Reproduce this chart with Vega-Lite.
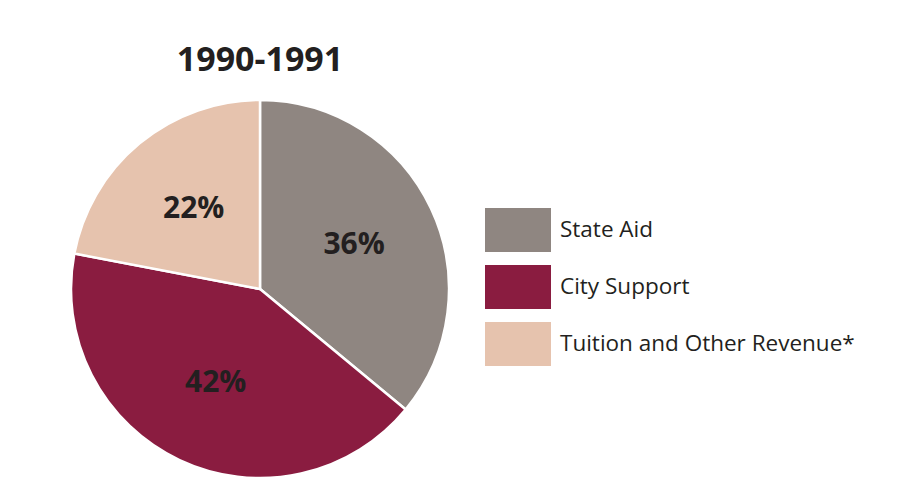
{
  "$schema": "https://vega.github.io/schema/vega-lite/v6.json",
  "autosize": "none",
  "width": 520,
  "height": 420,
  "padding": {"left": 0, "top": 79, "right": 404, "bottom": 1},
  "background": "white",
  "config": {"view": {"stroke": null}, "font": "Open Sans"},
  "title": {
    "text": "1990-1991",
    "font": "Open Sans",
    "fontSize": 34,
    "fontWeight": "bold",
    "color": "#231f20",
    "anchor": "middle",
    "offset": 1
  },
  "data": {
    "values": [
      {"source": "State Aid", "share": 36, "idx": 1, "label": "36%"},
      {"source": "City Support", "share": 42, "idx": 2, "label": "42%"},
      {"source": "Tuition and Other Revenue*", "share": 22, "idx": 3, "label": "22%"}
    ]
  },
  "encoding": {
    "theta": {"field": "share", "type": "quantitative", "stack": true},
    "order": {"field": "idx", "type": "quantitative"}
  },
  "layer": [
    {
      "mark": {"type": "arc", "outerRadius": 189, "stroke": "white", "strokeWidth": 2.5},
      "encoding": {
        "color": {
          "field": "source",
          "type": "nominal",
          "sort": ["State Aid", "City Support", "Tuition and Other Revenue*"],
          "scale": {
            "domain": ["State Aid", "City Support", "Tuition and Other Revenue*"],
            "range": ["#8f8681", "#8a1c40", "#e6c3ae"]
          },
          "legend": {
            "title": null,
            "orient": "none",
            "legendX": 496,
            "legendY": 129,
            "symbolType": "M-1.5,-1H1.5V1H-1.5Z",
            "symbolSize": 1936,
            "symbolStrokeWidth": 0,
            "symbolOpacity": 1,
            "labelFont": "Open Sans",
            "labelFontSize": 22.5,
            "labelColor": "#231f20",
            "labelOffset": 20,
            "labelLimit": 400,
            "rowPadding": 13
          }
        }
      }
    },
    {
      "mark": {
        "type": "text",
        "radius": 104,
        "font": "Open Sans",
        "fontSize": 30,
        "fontWeight": "bold",
        "color": "#231f20"
      },
      "encoding": {"text": {"field": "label"}}
    }
  ]
}
